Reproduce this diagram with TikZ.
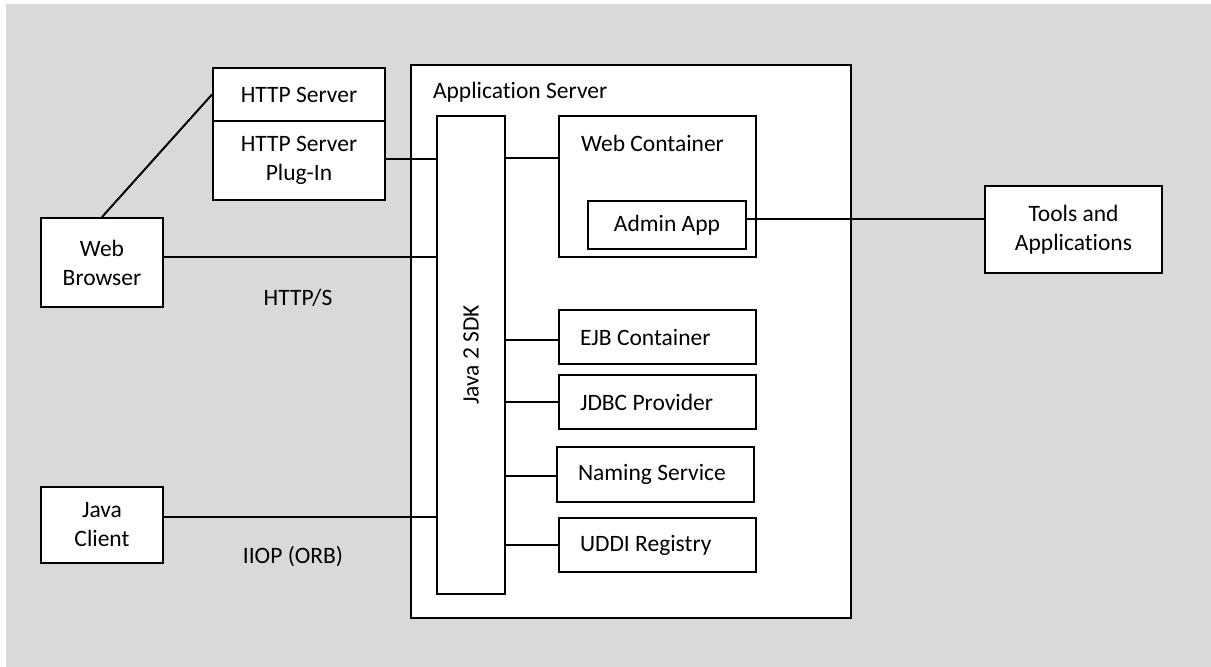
\documentclass[tikz,border=0pt]{standalone}
\usepackage{fontspec}
\setmainfont{Carlito}[Ligatures=NoCommon]
\definecolor{canvasgray}{HTML}{D9D9D9}

\begin{document}
\begin{tikzpicture}[x=1pt, y=-1pt, line width=2pt,
  txt/.style={font=\fontsize{23.5}{29}\selectfont, inner sep=0pt},
  box/.style={txt, draw=black, fill=white, align=center, rectangle},
  leftbox/.style={box, align=flush left, text width=155pt},
  wire/.style={draw=black, line width=2pt}]

\useasboundingbox (0,0) rectangle (1211,667);
\fill[white] (0,0) rectangle (1211,667);
\fill[canvasgray] (6,4) rectangle (1211,667);

% application server frame and its contents
\node[box, minimum width=440pt, minimum height=553pt] (appserver) at (631,341.5) {};
\node[txt, anchor=west] (apptitle) at (432,92) {Application Server};

\node[box, minimum width=68pt, minimum height=478pt] (sdk) at (471,355) {};
\node[txt, rotate=90] (sdklabel) at (sdk.center) {Java 2 SDK};

\node[box, minimum width=197pt, minimum height=141pt] (wc) at (657.5,186.5) {};
\node[txt, anchor=west] (wctitle) at (580,143) {Web Container};
\node[box, minimum width=158pt, minimum height=48pt] (admin) at (667,225) {Admin App};

\node[leftbox, minimum width=197pt, minimum height=54pt] (ejb) at (657.5,337) {EJB Container};
\node[leftbox, minimum width=197pt, minimum height=54pt] (jdbc) at (657.5,402) {JDBC Provider};
\node[leftbox, minimum width=197pt, minimum height=55pt] (naming) at (655.5,474.5) {Naming Service};
\node[leftbox, minimum width=197pt, minimum height=54pt] (uddi) at (657.5,545) {UDDI Registry};

% outside components
\node[box, minimum width=172pt, minimum height=53pt] (httpserver) at (299,94.5) {HTTP Server};
\node[box, minimum width=172pt, minimum height=79pt] (plugin) at (299,160.5) {HTTP Server\\Plug-In};
\node[box, minimum width=122pt, minimum height=89pt] (browser) at (102,262.5) {Web\\Browser};
\node[box, minimum width=122pt, minimum height=76pt] (client) at (102,525) {Java\\Client};
\node[box, minimum width=177pt, minimum height=87pt] (tools) at (1073.5,229.5) {Tools and\\Applications};

% protocol labels
\node[txt] (https) at (298,298) {HTTP/S};
\node[txt] (iiop) at (293,556.7) {IIOP (ORB)};

% heights at which the connectors run
\coordinate (lvplug) at (0,159);
\coordinate (lvwc)   at (0,158);
\coordinate (lvweb)  at (0,257);
\coordinate (lvjava) at (0,517);
\coordinate (lvadm)  at (0,219);
\coordinate (lvejb)  at (0,340);
\coordinate (lvjdbc) at (0,402);
\coordinate (lvname) at (0,476);
\coordinate (lvuddi) at (0,545);
\coordinate (sdkinner) at ([xshift=-2pt]sdk.east);

% connectors
\draw[wire] (browser.north) -- (httpserver.west);
\draw[wire] (plugin.east |- lvplug) -- (sdk.west |- lvplug);
\draw[wire] (sdk.east |- lvwc) -- (wc.west |- lvwc);
\draw[wire] (browser.east |- lvweb) -- (sdk.west |- lvweb);
\draw[wire] (client.east |- lvjava) -- (sdk.west |- lvjava);
\draw[wire] (admin.east |- lvadm) -- (tools.west |- lvadm);
\draw[wire] (sdk.east |- lvejb) -- (ejb.west |- lvejb);
\draw[wire] (sdk.east |- lvjdbc) -- (jdbc.west |- lvjdbc);
\draw[wire] (sdk.east |- lvname) -- (naming.west |- lvname);
\draw[wire] (sdkinner |- lvuddi) -- (uddi.west |- lvuddi);
\end{tikzpicture}
\end{document}
